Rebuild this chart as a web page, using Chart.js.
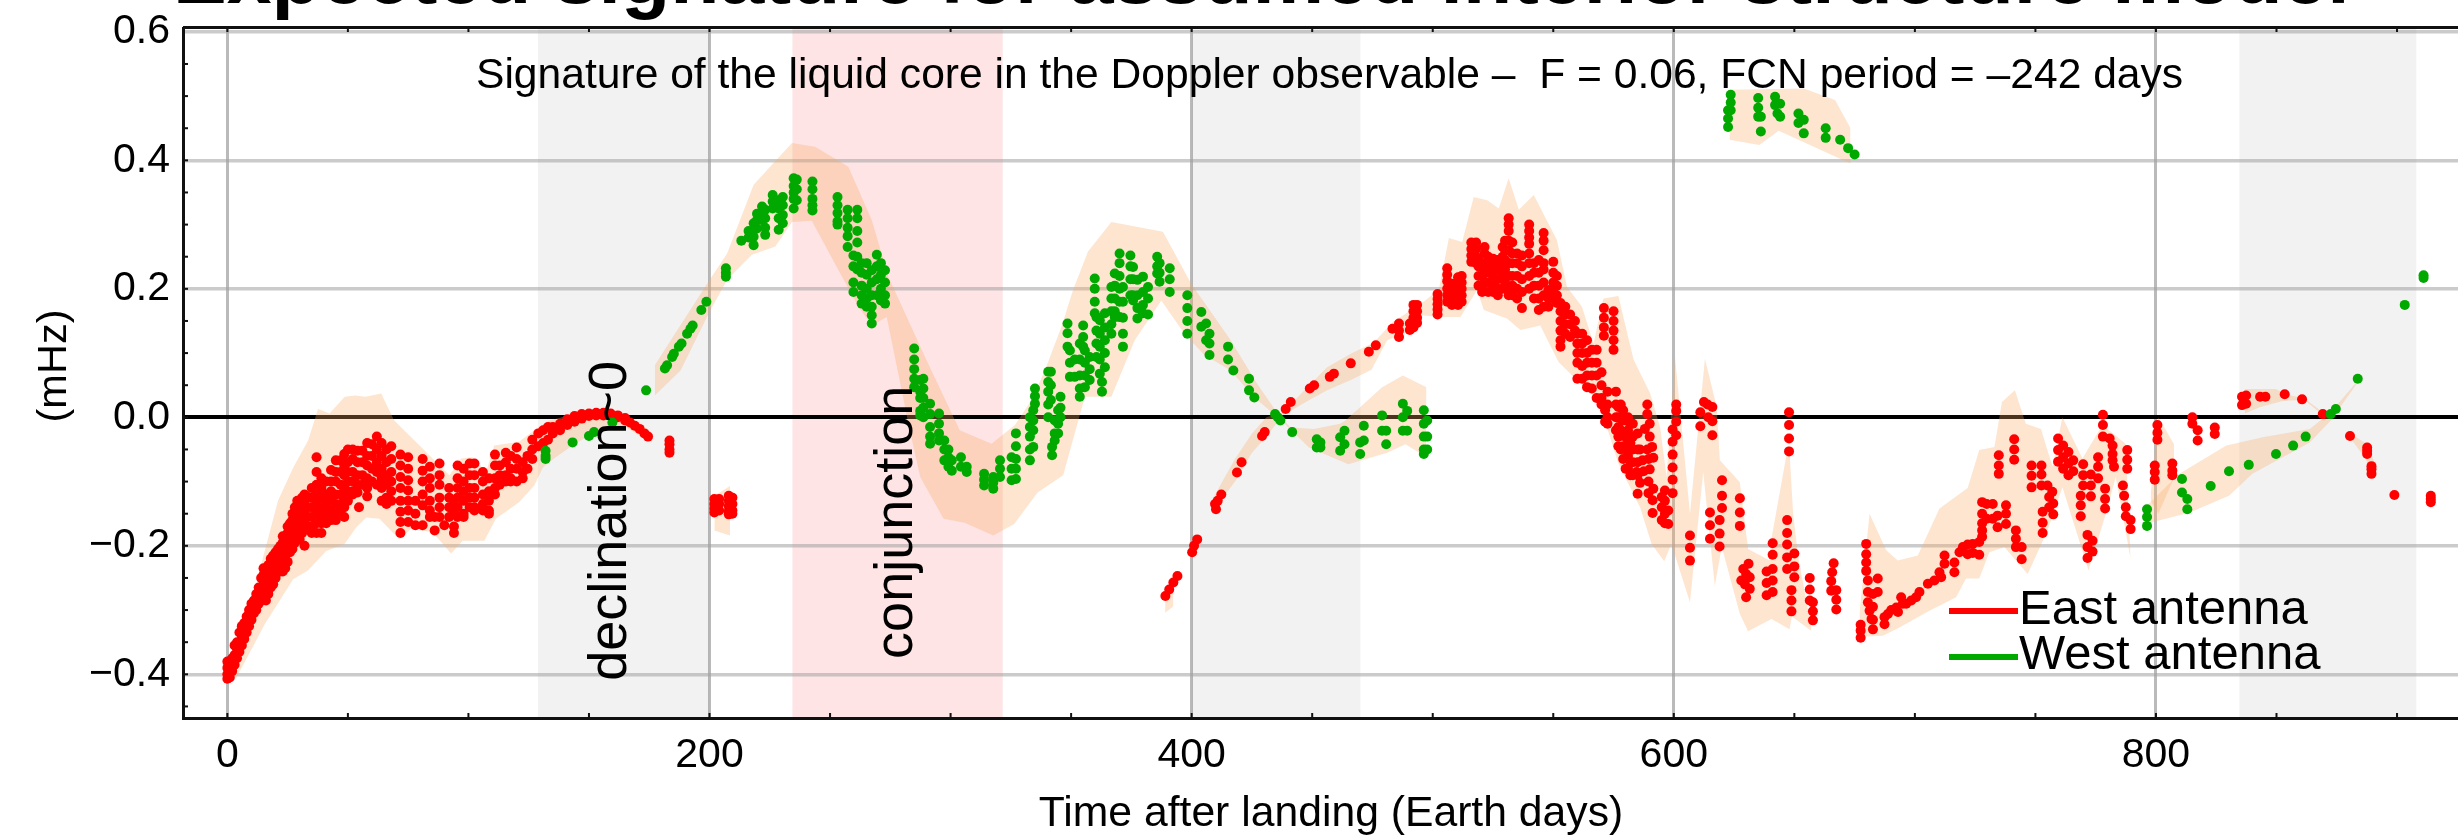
<!DOCTYPE html>
<html>
<head>
<meta charset="utf-8">
<title>Expected signature</title>
<script src="https://cdn.jsdelivr.net/npm/chart.js@4"></script>
<style>
  html, body { margin: 0; padding: 0; background: #fff; overflow: hidden; }
  canvas { display: block; }
</style>
</head>
<body>
<!-- the plot runs off the right edge of the figure, so the canvas is a little wider than the window -->
<canvas id="chart" width="2484" height="836"></canvas>
<script>
// every row below is [day, value, value, ...], values in mHz
const eastLanding = [
  [0, -0.407, -0.4, -0.39, -0.38], [1, -0.405, -0.395, -0.385], [2, -0.395, -0.385, -0.375],
  [3, -0.385, -0.37, -0.355], [4, -0.375, -0.36, -0.35], [5, -0.365, -0.35, -0.335],
  [6, -0.355, -0.34, -0.325], [7, -0.345, -0.33, -0.32], [8, -0.335, -0.32, -0.31],
  [9, -0.325, -0.31, -0.3], [10, -0.315, -0.3, -0.29], [11, -0.305, -0.29, -0.285],
  [12, -0.3, -0.285, -0.275], [13, -0.29, -0.275, -0.265], [14, -0.285, -0.265, -0.25],
  [15, -0.275, -0.26, -0.245, -0.235], [16, -0.285, -0.27, -0.255, -0.24],
  [17, -0.275, -0.26, -0.245, -0.23], [18, -0.265, -0.25, -0.235, -0.22],
  [19, -0.26, -0.245, -0.23, -0.215], [20, -0.25, -0.235, -0.22, -0.21],
  [21, -0.24, -0.225, -0.21, -0.205], [22, -0.24, -0.225, -0.215, -0.2],
  [23, -0.24, -0.225, -0.21, -0.195, -0.185], [24, -0.235, -0.22, -0.205, -0.19],
  [25, -0.225, -0.21, -0.195, -0.18, -0.17], [26, -0.21, -0.195, -0.18, -0.165],
  [27, -0.205, -0.19, -0.175, -0.16, -0.15], [28, -0.195, -0.18, -0.165, -0.15, -0.14],
  [29, -0.19, -0.175, -0.16, -0.145, -0.13], [30, -0.19, -0.175, -0.16, -0.145, -0.13],
  [31, -0.18, -0.165, -0.15, -0.135, -0.125], [32, -0.2, -0.175, -0.16, -0.145, -0.13, -0.12],
  [33.5, -0.17, -0.155, -0.14, -0.124]
];
const eastPlateau = [
  [35, -0.18, -0.17, -0.155, -0.14, -0.125, -0.11],
  [37, -0.18, -0.165, -0.15, -0.135, -0.12, -0.105, -0.085, -0.062],
  [39, -0.18, -0.165, -0.155, -0.14, -0.125, -0.11, -0.095], [41, -0.165, -0.15, -0.135, -0.12, -0.1],
  [43, -0.16, -0.145, -0.13, -0.115, -0.1, -0.082], [45, -0.16, -0.15, -0.135, -0.12, -0.1, -0.085, -0.067],
  [47, -0.145, -0.135, -0.12, -0.105, -0.085, -0.067], [48.5, -0.155, -0.14, -0.125, -0.11, -0.09, -0.075, -0.057],
  [50, -0.13, -0.115, -0.1, -0.085, -0.07, -0.05], [52, -0.12, -0.115, -0.1, -0.085, -0.065, -0.05],
  [54, -0.117, -0.105, -0.09, -0.07, -0.052], [54.6, -0.14], [56, -0.105, -0.09, -0.07, -0.052],
  [58, -0.123, -0.11, -0.095, -0.075, -0.06, -0.04], [60, -0.1, -0.08, -0.06, -0.042],
  [62, -0.105, -0.085, -0.07, -0.05, -0.03], [64, -0.13, -0.11, -0.095, -0.08, -0.06, -0.04],
  [66, -0.135, -0.125, -0.105, -0.09, -0.07, -0.05], [68, -0.13, -0.115, -0.1, -0.085, -0.065, -0.045],
  [71.8, -0.18, -0.163, -0.147, -0.13, -0.11, -0.093, -0.075, -0.058],
  [75, -0.163, -0.145, -0.13, -0.114, -0.098, -0.08, -0.062], [78, -0.168, -0.15, -0.13],
  [81, -0.168, -0.137, -0.12, -0.1, -0.083, -0.065], [84, -0.155, -0.145, -0.13, -0.11, -0.095, -0.077],
  [86, -0.176, -0.155], [88, -0.155, -0.14, -0.125, -0.105, -0.09, -0.072], [90, -0.168],
  [92, -0.155, -0.14, -0.125, -0.11], [94, -0.18, -0.17, -0.15, -0.13],
  [95.5, -0.155, -0.14, -0.125, -0.11, -0.095, -0.075], [98, -0.155, -0.15, -0.13, -0.115, -0.1, -0.08],
  [100.5, -0.14, -0.125, -0.11, -0.09, -0.072], [102.5, -0.145, -0.14, -0.125, -0.11, -0.09, -0.072],
  [106, -0.145, -0.135, -0.12, -0.1, -0.085], [108.5, -0.15, -0.145, -0.13, -0.115, -0.095],
  [111, -0.12, -0.11, -0.095, -0.075, -0.058], [113, -0.105, -0.09, -0.075], [115.5, -0.1, -0.09, -0.07, -0.055],
  [117.5, -0.1, -0.095, -0.08, -0.06], [120, -0.1, -0.08, -0.065, -0.047], [122.5, -0.095, -0.085, -0.07],
  [124.5, -0.08, -0.06], [126.5, -0.065, -0.05, -0.035], [129, -0.045, -0.025], [131, -0.04, -0.02],
  [133, -0.035, -0.015], [135, -0.025, -0.015], [138, -0.02, -0.01], [141, -0.012, -0.003], [144, -0.007, 0.002],
  [147, -0.002, 0.005], [150, 0.002, 0.006], [153, 0.003, 0.007], [156, 0.003, 0.007], [159, 0.002, 0.006],
  [162, 0, 0.003], [165, -0.005, -0.001], [167, -0.008], [169, -0.013], [171, -0.018], [173, -0.025], [174.5, -0.03],
  [183.4, -0.055, -0.05, -0.042, -0.036], [202, -0.148, -0.142, -0.135, -0.127], [204, -0.145, -0.135, -0.127],
  [208, -0.151, -0.146, -0.138, -0.13, -0.122], [209.5, -0.15, -0.145, -0.135, -0.125]
];
const eastClimb = [
  [389.1, -0.278], [390.7, -0.268], [392.4, -0.257], [394.1, -0.247], [400.2, -0.21], [401, -0.2], [402.3, -0.19],
  [409.7, -0.135], [410.1, -0.143], [410.8, -0.13], [412.3, -0.12], [418.8, -0.086], [420.7, -0.07],
  [429.2, -0.029], [430.3, -0.023], [439, 0.013], [441.1, 0.024], [449, 0.045], [450.8, 0.05], [457.3, 0.063],
  [459, 0.068], [466, 0.084], [473.5, 0.102], [476.4, 0.112], [483.3, 0.138], [486, 0.146, 0.135, 0.125],
  [490.5, 0.146, 0.136], [492, 0.175, 0.165, 0.155, 0.148, 0.14], [493.5, 0.175, 0.165, 0.155, 0.147],
  [502, 0.192, 0.184, 0.176, 0.168, 0.16]
];
const eastPeak = [
  [506, 0.232, 0.222, 0.212, 0.2, 0.19, 0.18], [508, 0.208, 0.195, 0.185, 0.175],
  [510.5, 0.218, 0.208, 0.198, 0.188, 0.178, 0.175], [512, 0.22, 0.21, 0.2, 0.19, 0.18],
  [516, 0.272, 0.262, 0.252, 0.242], [518, 0.272, 0.262, 0.25, 0.24], [519, 0.245, 0.235, 0.22, 0.205],
  [520.5, 0.235, 0.22, 0.205, 0.195], [521.5, 0.265, 0.255, 0.24, 0.225, 0.21], [523, 0.25, 0.24, 0.225, 0.21, 0.195],
  [525, 0.247, 0.235, 0.22, 0.205, 0.195], [527, 0.245, 0.23, 0.215, 0.2, 0.19], [529, 0.265, 0.25, 0.235, 0.22, 0.2],
  [530, 0.275, 0.26, 0.245, 0.23, 0.21], [531.5, 0.31, 0.3, 0.29, 0.275, 0.26, 0.24, 0.22, 0.2, 0.19],
  [533, 0.272, 0.255, 0.24, 0.22, 0.205, 0.19], [535, 0.255, 0.24, 0.22, 0.2, 0.185], [537, 0.252, 0.235, 0.215, 0.195, 0.17],
  [540, 0.3, 0.29, 0.28, 0.27, 0.255, 0.24, 0.22, 0.2], [542, 0.24, 0.225, 0.205, 0.185], [544, 0.245, 0.225, 0.205, 0.185, 0.167],
  [546, 0.287, 0.275, 0.26, 0.24, 0.23, 0.21, 0.19, 0.172], [548, 0.198, 0.185, 0.172], [550, 0.242, 0.225, 0.21, 0.195, 0.185],
  [551.5, 0.22, 0.205, 0.19, 0.178], [553, 0.178, 0.165, 0.15, 0.135, 0.12, 0.11], [555, 0.172, 0.16, 0.145, 0.13],
  [557, 0.16, 0.145, 0.125], [559, 0.15, 0.135], [560, 0.13, 0.115, 0.1, 0.085, 0.06], [562, 0.13, 0.115, 0.1, 0.08, 0.06],
  [564, 0.12, 0.1, 0.085, 0.065, 0.047], [566, 0.105, 0.085, 0.065, 0.045], [568, 0.105, 0.085, 0.065, 0.03],
  [570, 0.07, 0.05, 0.03, 0.02], [571, 0.17, 0.155, 0.14, 0.127], [571.5, 0.011, -0.007], [572.5, 0.04, 0.02, 0, -0.01],
  [575, 0.165, 0.15, 0.135, 0.12, 0.105]
];
const eastFall = [
  [576, 0.04, 0.02, 0, -0.02], [577, 0.016, 0, -0.015, -0.03, -0.045], [578, 0.02, 0, -0.02, -0.05],
  [579, 0.011, -0.005, -0.025, -0.045, -0.065], [580, -0.005, -0.03, -0.05, -0.08], [581, 0, -0.02, -0.04, -0.06, -0.08],
  [582, -0.01, -0.04, -0.07, -0.09], [583, -0.01, -0.03, -0.05, -0.07, -0.09], [584.6, -0.085],
  [585, -0.025, -0.05, -0.07, -0.09, -0.119], [586, -0.05, -0.102], [587, -0.067], [587.5, -0.084], [588, -0.018],
  [589, 0.02, 0.005, -0.05], [589.5, -0.065, -0.1, -0.118], [590, -0.01, -0.03, -0.081], [591, -0.046],
  [591.2, -0.129, -0.149], [591.5, -0.063, -0.111], [595, -0.124, -0.14, -0.16], [596.3, -0.114, -0.13, -0.15, -0.165],
  [597.7, -0.145, -0.166], [599.5, -0.019, -0.038, -0.058, -0.078, -0.097, -0.118], [601, 0.02, 0.01, -0.007, -0.028],
  [606.7, -0.184, -0.203, -0.223], [611, 0.008, -0.014], [612.5, 0.024], [614, 0.02], [614.3, 0], [615, -0.148, -0.168, -0.189],
  [616, 0.016, -0.006, -0.028], [619, -0.16, -0.181, -0.201], [620, -0.098, -0.122, -0.141], [627.4, -0.126, -0.148, -0.169],
  [628, -0.254], [628.8, -0.236], [629.5, -0.26], [630, -0.244, -0.28], [631, -0.228], [631.5, -0.249, -0.267],
  [638.5, -0.24, -0.258, -0.277], [641, -0.196, -0.214, -0.236, -0.254, -0.272], [647, -0.16, -0.18, -0.198, -0.218, -0.236],
  [647.8, 0.008, -0.012, -0.033, -0.053], [648.8, -0.269, -0.285, -0.302], [650, -0.212, -0.232, -0.249],
  [656.4, -0.25, -0.268, -0.285], [657.7, -0.288, -0.302, -0.316], [665.3, -0.255, -0.27], [665.7, -0.241], [666.3, -0.227],
  [667.4, -0.269, -0.284, -0.299]
];
const eastLow = [
  [677.5, -0.323, -0.332, -0.343], [679.8, -0.197, -0.213, -0.226, -0.239], [680.5, -0.254, -0.272, -0.288], [681.2, -0.301],
  [682, -0.314], [682.6, -0.275, -0.295, -0.315, -0.33], [684.6, -0.251, -0.272], [687.4, -0.311, -0.322], [688.8, -0.306],
  [690.2, -0.3], [692.3, -0.296], [693, -0.303], [694.3, -0.28], [695, -0.29], [696.4, -0.29], [698.5, -0.285], [700.5, -0.28],
  [701.9, -0.272], [705.4, -0.259], [708.1, -0.254], [710.2, -0.241], [710.9, -0.249], [712.3, -0.215, -0.228],
  [716.4, -0.226, -0.241], [718.5, -0.21], [719.9, -0.202], [721.9, -0.198, -0.213], [724, -0.197, -0.211],
  [726.7, -0.194, -0.214], [727.9, -0.132, -0.15, -0.165, -0.176, -0.186], [729.8, -0.135, -0.158], [732.3, -0.135, -0.158],
  [734.3, -0.153, -0.171], [734.8, -0.059, -0.075, -0.088], [737.8, -0.137, -0.15, -0.166], [741.2, -0.034, -0.05, -0.066],
  [741.9, -0.176, -0.189, -0.202], [744.3, -0.202, -0.221], [748.4, -0.075, -0.091, -0.109], [752.5, -0.075, -0.089, -0.106],
  [753, -0.147, -0.164, -0.18], [755, -0.106], [755.7, -0.124, -0.14], [757, -0.116], [757.4, -0.134, -0.151]
];
const eastLate = [
  [759.4, -0.033, -0.051, -0.069], [761.5, -0.044, -0.062, -0.08], [763.7, -0.054, -0.072, -0.09], [765.7, -0.067, -0.084],
  [768.8, -0.122, -0.137, -0.154], [769.8, -0.073, -0.09, -0.106], [771.6, -0.183, -0.202, -0.219], [773, -0.089, -0.106, -0.123],
  [773.7, -0.192, -0.209], [776, -0.062, -0.077, -0.095], [778, 0.004, -0.012, -0.03], [778.9, -0.111, -0.127, -0.142],
  [780.8, -0.033], [782, -0.044, -0.057, -0.067], [782.6, -0.077], [786.3, -0.106], [786.8, -0.122], [787.5, -0.14, -0.154],
  [788.1, -0.051, -0.066, -0.08], [789.5, -0.16, -0.174], [799.5, -0.075, -0.085, -0.097], [800.6, -0.012, -0.024, -0.035],
  [806.8, -0.072, -0.083, -0.09], [815.1, 0, -0.01], [817.3, -0.02, -0.036], [824.4, -0.016, -0.026], [835.7, 0.032, 0.019],
  [837.4, 0.034, 0.021], [843.2, 0.032], [845.4, 0.032], [853.4, 0.036], [860.6, 0.028], [869.2, 0.005], [880.5, -0.029],
  [887.6, -0.047, -0.052, -0.057], [889.4, -0.076, -0.081, -0.088], [898.9, -0.121], [914, -0.122, -0.127, -0.132]
];

const westRise = [
  [132, -0.052, -0.06, -0.065], [143.2, -0.039], [150, -0.029], [152.1, -0.023], [159.7, -0.008], [173.7, 0.042],
  [181.5, 0.076], [182.4, 0.081], [184.5, 0.094], [185.2, 0.099], [187.3, 0.11], [188.4, 0.115], [190.7, 0.13],
  [192.1, 0.138], [193, 0.143], [196.6, 0.167], [198.7, 0.18], [206.8, 0.232, 0.225, 0.219], [213.2, 0.275],
  [216.2, 0.29, 0.28], [218.3, 0.302, 0.292, 0.281, 0.268], [219.7, 0.317, 0.307, 0.294], [221.8, 0.328, 0.318, 0.307],
  [223.1, 0.323, 0.31, 0.295, 0.284], [226.2, 0.346, 0.336, 0.325], [228.7, 0.338, 0.325, 0.31, 0.292],
  [230.4, 0.343, 0.33, 0.315, 0.302], [234.9, 0.372, 0.36, 0.35, 0.34, 0.325], [236.2, 0.37, 0.355, 0.338]
];
const westDecline = [
  [242.7, 0.367, 0.355, 0.34, 0.33, 0.322], [253.1, 0.343, 0.33, 0.318, 0.305, 0.3], [257.3, 0.323, 0.31, 0.295, 0.282, 0.265],
  [259.7, 0.252, 0.235, 0.21, 0.195], [261.3, 0.323, 0.31, 0.29, 0.272, 0.25, 0.23], [263.1, 0.24, 0.225, 0.205, 0.19, 0.177],
  [265.2, 0.24, 0.222, 0.2, 0.185, 0.172], [267.3, 0.229, 0.21, 0.19, 0.172, 0.159, 0.146], [269.4, 0.253, 0.235, 0.215, 0.19],
  [271.1, 0.24, 0.222, 0.2, 0.182], [272.8, 0.229, 0.21, 0.19, 0.177], [284.9, 0.107, 0.09, 0.075, 0.06, 0.047],
  [287.4, 0.058, 0.04, 0.03, 0.01, 0.003], [288.7, 0.06, 0.045, 0.03, 0.015, 0], [291.5, 0.021, 0.005, -0.015, -0.03, -0.041],
  [295.2, 0.006, -0.01, -0.025, -0.036], [297.4, -0.036, -0.05, -0.067], [299.1, -0.05, -0.062, -0.077], [300.5, -0.067, -0.083],
  [304.3, -0.062, -0.077], [306.7, -0.077, -0.085], [313.9, -0.088, -0.097, -0.106], [317.7, -0.093, -0.102, -0.111],
  [320.5, -0.067, -0.08, -0.093], [325.3, -0.062, -0.08, -0.098], [327.1, -0.025, -0.045, -0.065, -0.08, -0.096]
];
const westSecondPeak = [
  [332.9, 0, -0.015, -0.03, -0.05, -0.067], [334.3, 0.011, -0.005, -0.02, -0.046], [335, 0.045, 0.033, 0.021],
  [340.5, 0.071, 0.055, 0.04, 0.02, 0], [341.6, 0.071, 0.05, 0.027], [342.1, -0.046, -0.059], [343.2, -0.005, -0.025, -0.036],
  [344.6, 0.011, -0.01, -0.025], [345.6, 0.032, 0.015, 0], [348.5, 0.146, 0.131, 0.11], [349.5, 0.104, 0.085, 0.063],
  [351.5, 0.09, 0.063], [353.6, 0.115, 0.09, 0.065, 0.045, 0.032], [355, 0.143, 0.125, 0.11], [355.7, 0.104, 0.085, 0.065, 0.047],
  [357.7, 0.094, 0.075, 0.058], [359.8, 0.216, 0.2, 0.18, 0.162], [360.5, 0.156, 0.135, 0.115, 0.094],
  [361.9, 0.151, 0.13, 0.11, 0.09, 0.068], [362.8, 0.055, 0.04], [364, 0.162, 0.14, 0.12, 0.1, 0.078],
  [366.7, 0.203, 0.185, 0.165, 0.145, 0.13], [368.1, 0.224, 0.205, 0.185, 0.165, 0.156], [370.1, 0.255, 0.24, 0.22, 0.2, 0.18, 0.156],
  [371.5, 0.203, 0.18, 0.155, 0.13, 0.11], [374.6, 0.252, 0.235, 0.215, 0.19], [375.7, 0.234, 0.215, 0.19, 0.182],
  [377.5, 0.214, 0.19, 0.17, 0.154], [379.8, 0.219, 0.195, 0.175, 0.162], [381.9, 0.203, 0.185, 0.16],
  [385.7, 0.25, 0.235, 0.224], [386.7, 0.24, 0.225, 0.211], [390.9, 0.232, 0.215, 0.195], [398.2, 0.19, 0.17, 0.15, 0.13],
  [404, 0.164, 0.141], [406, 0.146, 0.12], [407.4, 0.13, 0.115, 0.097], [415.1, 0.11, 0.09], [417.3, 0.073],
  [423.8, 0.06, 0.042], [426, 0.031]
];
const westLate = [
  [434.6, 0.005], [435.7, 0], [436.8, -0.005], [441.7, -0.023], [451.9, -0.034, -0.047], [453.4, -0.039, -0.047],
  [461.6, -0.031, -0.052], [463.4, -0.021, -0.042], [469.9, -0.039, -0.057], [471.4, -0.013, -0.036], [479, 0.003, -0.021],
  [480.7, -0.021, -0.042], [487.6, 0.021, 0, -0.021], [489.4, 0.01, -0.021], [496.3, 0.011, -0.01, -0.03, -0.05, -0.057],
  [497.7, -0.005, -0.03, -0.05], [622.5, 0.478, 0.465, 0.452], [623.6, 0.502, 0.49, 0.478], [635, 0.497, 0.482, 0.468],
  [636.1, 0.468, 0.445], [642, 0.499, 0.486], [643, 0.473], [644.1, 0.488, 0.468], [651.7, 0.473, 0.458], [653.9, 0.463, 0.442],
  [663, 0.45, 0.435], [669, 0.432], [672.3, 0.419], [675, 0.409], [796.3, -0.143, -0.155, -0.169], [810.8, -0.096, -0.117],
  [813, -0.127, -0.143], [822.7, -0.107], [830.3, -0.084], [838.5, -0.074], [849.8, -0.057], [856.9, -0.044], [862.1, -0.03],
  [872.5, 0.005], [874.6, 0.013], [883.7, 0.06], [903.2, 0.175], [911, 0.217, 0.221]
];

// uncertainty envelope, [day, value] along the top edge and the bottom edge of each piece
const eastBandTop = [
  [[-0.3, -0.38], [5.2, -0.345], [10.7, -0.285], [14.8, -0.218], [21, -0.13], [27.5, -0.077], [33.5, -0.036], [37.6, 0.013],
   [42.4, 0.006], [48.7, 0.032], [53, 0.034], [57.3, 0.032], [63.8, 0.037], [69.2, -0.005], [79, -0.041], [92.1, -0.09], [97, -0.064],
   [101.8, -0.062], [107.3, -0.085], [110.7, -0.044], [121, -0.038], [128, -0.018], [133.5, -0.005], [144, 0.005], [152.6, 0.01],
   [165.6, 0.003], [174.2, -0.018]],
  [[202, -0.122], [208.5, -0.107]],
  [[389, -0.27], [392.4, -0.25]],
  [[409, -0.125], [412, -0.105], [418, -0.065], [425, -0.025], [431, 0], [437.8, 0.008], [449.7, 0.053], [456.2, 0.078], [466, 0.099],
   [475.7, 0.117], [483.3, 0.148], [494.1, 0.174], [502.5, 0.198], [506.7, 0.279], [512.2, 0.273], [517, 0.343], [522.6, 0.338],
   [527.4, 0.325], [531.5, 0.372], [535.7, 0.323], [541.9, 0.346], [551.5, 0.276], [555.7, 0.203], [561.9, 0.172], [566.7, 0.115],
   [570.8, 0.185], [577, 0.189], [583.3, 0.09], [590.2, 0.037], [594.3, -0.015], [597, -0.093], [600.5, 0.094], [606.7, -0.15],
   [612.9, 0.091], [617.8, 0.016], [619.1, -0.067], [627.4, -0.101], [630.8, -0.205], [639.8, -0.223], [640.5, -0.189], [646.7, -0.059],
   [647.8, -0.041], [649.5, -0.15], [651.5, -0.215], [657, -0.327]],
  [[677, -0.306], [681.2, -0.15], [688.1, -0.207], [692.9, -0.223], [701.2, -0.215], [710.2, -0.142], [721.9, -0.11], [726.7, -0.051],
   [733, -0.046], [736.1, 0.024], [741.5, 0.042], [746, -0.01], [752.3, -0.018], [757.1, -0.077], [761.2, 0], [769.5, -0.064],
   [777.8, -0.012], [787.4, -0.041], [789.5, -0.22]],
  [[797.8, -0.12], [801, 0], [807.5, -0.042]],
  [[836.8, 0.044], [849.7, 0.044], [854, 0.036], [861.6, 0.029], [870.3, 0.005]],
  [[881, -0.026], [887.6, -0.042], [890.9, -0.073]]
];
const eastBandBottom = [
  [[-0.3, -0.415], [3.8, -0.405], [15.5, -0.322], [27.3, -0.252], [33.5, -0.238], [41, -0.208], [48.6, -0.197], [53.5, -0.171],
   [57.6, -0.156], [63.1, -0.158], [71.4, -0.19], [76.2, -0.174], [85.2, -0.179], [92.8, -0.212], [97.6, -0.192], [106.6, -0.192],
   [111.4, -0.158], [121, -0.132], [127.3, -0.106], [130.9, -0.078], [135.2, -0.065], [143.9, -0.042], [154.7, -0.018],
   [165.6, -0.016], [174.2, -0.036]],
  [[202, -0.176], [208.5, -0.184]],
  [[389, -0.304], [392.4, -0.294]],
  [[409, -0.148], [412, -0.13], [418, -0.1], [425, -0.055], [431, -0.03], [437.8, 0.003], [449.7, 0.029], [456.2, 0.042], [466, 0.058],
   [474.6, 0.074], [481.1, 0.12], [489.8, 0.133], [495.2, 0.159], [502.8, 0.156], [511.5, 0.156], [518.4, 0.198], [521.2, 0.167],
   [530.8, 0.154], [536.4, 0.136], [544.6, 0.143], [552.2, 0.086], [558.4, 0.063], [568, 0.029], [572.2, -0.015], [577, -0.072],
   [586, -0.14], [590.8, -0.197], [596, -0.224], [599, -0.197], [606.7, -0.288], [612.2, -0.085], [617, -0.262], [619.9, -0.202],
   [627.4, -0.306], [630.8, -0.333], [640.5, -0.314], [648, -0.33], [649, -0.31], [657, -0.332]],
  [[677, -0.34], [679.8, -0.341], [686.7, -0.34], [693.6, -0.327], [706, -0.301], [717.1, -0.28], [721.2, -0.251], [726.7, -0.251],
   [730.9, -0.21], [737.1, -0.202], [746.8, -0.244], [755, -0.176], [761.2, -0.109], [772, -0.238], [779.2, -0.15], [783.3, -0.093],
   [789.5, -0.22]],
  [[797.8, -0.13], [801, -0.15], [807.5, -0.094]],
  [[836.8, 0.006], [843.3, 0.016], [853, 0.026], [861.6, 0.027], [870.3, 0]],
  [[881, -0.034], [886.5, -0.062], [890.9, -0.09]]
];
const westBandTop = [
  [[177.3, 0.081], [199, 0.208], [207.3, 0.255], [218.3, 0.362], [234.2, 0.427], [243.8, 0.421], [257.6, 0.39], [267.3, 0.307],
   [274.2, 0.219], [289.4, 0.094], [303.8, -0.02], [317, -0.041], [326.7, -0.012], [333.6, 0.027], [339.1, 0.073], [346, 0.141],
   [350.8, 0.198], [357, 0.258], [366.7, 0.304], [388.1, 0.289], [399.8, 0.208], [416.2, 0.12], [427, 0.053], [435.7, 0.006],
   [441, -0.016], [450.8, -0.018], [461.6, -0.01], [463.8, -0.005], [479, 0.047], [487.6, 0.065], [497.4, 0.047]],
  [[623.1, 0.51], [653.9, 0.512], [666.9, 0.494], [673.3, 0.45]],
  [[795.6, -0.14], [809.7, -0.088], [829.2, -0.044], [844.3, -0.031], [863.8, -0.018], [872.5, 0.008], [884.4, 0.06]]
];
const westBandBottom = [
  [[177.3, 0.034], [188, 0.073], [199.7, 0.162], [207.3, 0.214], [217.6, 0.253], [227.3, 0.266], [234.2, 0.304], [242.4, 0.306],
   [253.5, 0.229], [261.8, 0.172], [267.3, 0.143], [273.5, 0.156], [279.7, 0.042], [282.5, -0.01], [287.4, -0.093], [297.1, -0.158],
   [305.8, -0.164], [317.7, -0.184], [326.4, -0.166], [336.1, -0.117], [346.7, -0.09], [355.7, 0.032], [366.7, 0.032], [376.4, 0.12],
   [387.4, 0.182], [397, 0.13], [405.3, 0.097], [416.2, 0.073], [426, 0.031], [435.7, 0], [448.7, -0.047], [465, -0.073], [481.1, -0.055],
   [488.7, -0.042], [497.4, -0.062]],
  [[623.1, 0.432], [635.5, 0.424], [643.5, 0.446], [673.3, 0.395]],
  [[795.6, -0.166], [814, -0.148], [830.3, -0.122], [840, -0.088], [863.8, -0.039], [872.5, -0.005], [884.4, 0.058]]
];

const greyWindows = [[128.8, 200], [400, 470], [834.6, 908]];
const pinkWindows = [[234.4, 321.6]];

const xTicks = [0, 200, 400, 600, 800];
const xTickLabels = ["0", "200", "400", "600", "800"];
const yTicks = [0.6, 0.4, 0.2, 0, -0.2, -0.4];
const yTickLabels = ["0.6", "0.4", "0.2", "0.0", "−0.2", "−0.4"];
const xMinorTicks = [0, 50, 100, 150, 200, 250, 300, 350, 400, 450, 500, 550, 600, 650, 700, 750, 800, 850, 900];
const yMinorTicks = [0.55, 0.5, 0.45, 0.4, 0.35, 0.3, 0.25, 0.2, 0.15, 0.1, 0.05, 0, -0.05, -0.1, -0.15, -0.2, -0.25, -0.3, -0.35, -0.4, -0.45];

const seriesNames = ["East antenna", "West antenna"];
const eastColor = "#ff0000";
const westColor = "#00a800";
const bandColor = "rgba(250,170,100,0.3)";
const textFont = '"Liberation Sans", Arial, sans-serif';

function flattenColumns(columns) {
  const points = [];
  columns.forEach((col) => {
    col.slice(1).forEach((val) => points.push({ x: col[0], y: val }));
  });
  return points;
}

function toPoints(edge) {
  return edge.map((p) => ({ x: p[0], y: p[1] }));
}

function pointDataset(label, columns, color) {
  return {
    label,
    data: flattenColumns(columns),
    backgroundColor: color,
    pointRadius: 5,
    pointBorderWidth: 0,
    showLine: false,
  };
}

// top edge fills down to the bottom edge, which is the next dataset
function bandDatasets(topPieces, bottomPieces) {
  const sets = [];
  topPieces.forEach((piece, i) => {
    sets.push({ data: toPoints(piece), showLine: true, borderWidth: 0, pointRadius: 0, fill: "+1", backgroundColor: bandColor });
    sets.push({ data: toPoints(bottomPieces[i]), showLine: true, borderWidth: 0, pointRadius: 0, fill: false, backgroundColor: bandColor });
  });
  return sets;
}

const backgroundWindows = {
  id: "backgroundWindows",
  beforeDraw(chart) {
    const { ctx, chartArea, scales } = chart;
    const paint = (win, color) => {
      const x0 = scales.x.getPixelForValue(win[0]);
      const x1 = scales.x.getPixelForValue(win[1]);
      ctx.fillStyle = color;
      ctx.fillRect(x0, chartArea.top, x1 - x0, chartArea.bottom - chartArea.top);
    };
    greyWindows.forEach((win) => paint(win, "#f2f2f2"));
    pinkWindows.forEach((win) => paint(win, "#fee4e4"));
  },
};

const overlayText = {
  id: "overlayText",
  afterDatasetsDraw(chart) {
    const { ctx, chartArea, scales } = chart;
    const { x, y } = scales;
    ctx.save();

    // top frame line and the small inside ticks
    ctx.fillStyle = "#111";
    ctx.fillRect(chartArea.left, chartArea.top - 2, chartArea.right - chartArea.left, 3);
    xMinorTicks.forEach((val) => {
      const px = x.getPixelForValue(val);
      ctx.fillRect(px - 1, chartArea.bottom - 5, 2, 5);
      ctx.fillRect(px - 1, chartArea.top, 2, 4);
    });
    yMinorTicks.forEach((val) => {
      ctx.fillRect(chartArea.left, y.getPixelForValue(val) - 1, 5, 2);
    });

    ctx.fillStyle = "#000";
    ctx.textBaseline = "alphabetic";
    ctx.textAlign = "left";

    ctx.font = "bold 80.6px " + textFont;
    ctx.fillText("Expected signature for assumed interior structure model", 173, 3);

    ctx.font = "42.6px " + textFont;
    ctx.fillText("Signature of the liquid core in the Doppler observable –  F = 0.06, FCN period = –242 days", 476, 88);

    ctx.font = "54px " + textFont;
    const rotated = (text, day, val) => {
      ctx.save();
      ctx.translate(x.getPixelForValue(day), y.getPixelForValue(val));
      ctx.rotate(-Math.PI / 2);
      ctx.fillText(text, 0, 0);
      ctx.restore();
    };
    rotated("declination~0", 165.5, -0.41);
    rotated("conjunction", 284.1, -0.376);

    // y axis title sits a little above the middle of the plot in the figure
    ctx.save();
    ctx.font = "41.5px " + textFont;
    ctx.textAlign = "center";
    ctx.textBaseline = "middle";
    ctx.translate(55, 366);
    ctx.rotate(-Math.PI / 2);
    ctx.fillText("(mHz)", 0, 0);
    ctx.restore();

    // legend
    ctx.font = "49px " + textFont;
    ctx.fillText(seriesNames[0], 2019, 624);
    ctx.fillText(seriesNames[1], 2019, 669);
    ctx.fillStyle = eastColor;
    ctx.fillRect(1949, 608, 69, 6);
    ctx.fillStyle = westColor;
    ctx.fillRect(1949, 654, 69, 6);

    ctx.restore();
  },
};

new Chart(document.getElementById("chart"), {
  type: "scatter",
  data: {
    datasets: [
      pointDataset(seriesNames[1], [...westRise, ...westDecline, ...westSecondPeak, ...westLate], westColor),
      pointDataset(seriesNames[0], [...eastLanding, ...eastPlateau, ...eastClimb, ...eastPeak, ...eastFall, ...eastLow, ...eastLate], eastColor),
      ...bandDatasets(eastBandTop, eastBandBottom),
      ...bandDatasets(westBandTop, westBandBottom),
    ],
  },
  options: {
    responsive: false,
    animation: false,
    layout: { padding: { top: 28, left: 0, right: 0, bottom: 0 } },
    plugins: { legend: { display: false }, tooltip: { enabled: false } },
    scales: {
      x: {
        type: "linear",
        min: -18.4,
        max: 934,
        afterFit: (scale) => {
          scale.height = 118;
          scale.paddingLeft = 0;
          scale.paddingRight = 0;
        },
        afterBuildTicks: (scale) => { scale.ticks = xTicks.map((value) => ({ value })); },
        ticks: {
          autoSkip: false,
          maxRotation: 0,
          padding: 13,
          color: "#000",
          font: { family: textFont, size: 41 },
          callback: (val) => xTickLabels[xTicks.indexOf(val)],
        },
        grid: { color: "rgba(130,130,130,0.55)", lineWidth: 3, drawTicks: false },
        border: { color: "#111", width: 3 },
        title: {
          display: true,
          text: "Time after landing (Earth days)",
          color: "#000",
          padding: 0,
          font: { family: textFont, size: 42.7, lineHeight: 1 },
        },
      },
      y: {
        type: "linear",
        min: -0.468,
        max: 0.606,
        afterFit: (scale) => {
          scale.width = 183;
          scale.paddingTop = 0;
          scale.paddingBottom = 0;
        },
        afterBuildTicks: (scale) => { scale.ticks = yTicks.map((value) => ({ value })); },
        ticks: {
          autoSkip: false,
          padding: 13,
          color: "#000",
          font: { family: textFont, size: 41 },
          callback: (val) => yTickLabels[yTicks.indexOf(val)],
        },
        grid: {
          color: (ctx) => (ctx.tick && ctx.tick.value === 0 ? "#000" : "rgba(160,160,160,0.55)"),
          lineWidth: (ctx) => (ctx.tick && ctx.tick.value === 0 ? 4 : 3.5),
          drawTicks: false,
        },
        border: { color: "#111", width: 3 },
      },
    },
  },
  plugins: [backgroundWindows, overlayText],
});
</script>
</body>
</html>
